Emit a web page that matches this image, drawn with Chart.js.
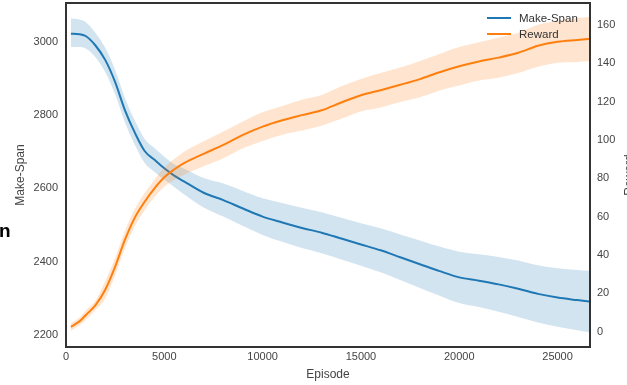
<!DOCTYPE html>
<html>
<head>
<meta charset="utf-8">
<script src="https://cdn.jsdelivr.net/npm/chart.js@4"></script>
<style>
  body { margin: 0; background: #fff; overflow: hidden; }
  #wrap { position: relative; width: 627px; height: 385px; font-family: "Liberation Sans", Arial, sans-serif; }
  .leg { position: absolute; left: 487px; width: 24px; height: 2px; }
  .legtxt { position: absolute; left: 519px; font-size: 11.5px; color: #333; line-height: 14px; }
</style>
</head>
<body>
<div id="wrap">
  <canvas id="chart" width="627" height="385"></canvas>
  <div class="leg" style="top:17px;background:#1f77b4"></div>
  <div class="legtxt" style="top:11px">Make-Span</div>
  <div class="leg" style="top:33px;background:#ff7f0e"></div>
  <div class="legtxt" style="top:27px">Reward</div>
  <div style="position:absolute;left:599px;top:168px;width:60px;height:14px;font-size:12px;color:#444;text-align:center;transform:rotate(-90deg)">Reward</div>
  <span style="position:absolute;left:-1px;top:220px;font-size:19px;font-weight:bold;color:#000">n</span>
</div>
<script>
// episodes sampled along the x axis
var episodes = [250, 700, 1000, 1500, 2000, 2500, 3000, 3500, 4000, 4500, 5000, 5500, 6000, 7000, 8000, 9000, 10000,
  11000, 12000, 13000, 14000, 15000, 16000, 17000, 18000, 19000, 20000, 21000, 22000, 23000, 24000, 25000, 26000, 26600];

// make-span (left axis): mean and shaded band
var makeSpan = [3022, 3021, 3016, 2990, 2950, 2890, 2813, 2752, 2702, 2678, 2655, 2635, 2619, 2588, 2568, 2545, 2523,
  2507, 2492, 2479, 2463, 2447, 2431, 2412, 2393, 2374, 2357, 2348, 2338, 2326, 2312, 2302, 2295, 2291];
var makeSpanHigh = [3064, 3061, 3054, 3024, 2983, 2923, 2846, 2785, 2735, 2710, 2686, 2666, 2654, 2628, 2613, 2593, 2573,
  2560, 2547, 2535, 2520, 2505, 2491, 2474, 2458, 2441, 2427, 2420, 2413, 2403, 2390, 2382, 2377, 2375];
var makeSpanLow = [2986, 2986, 2982, 2958, 2917, 2857, 2780, 2719, 2669, 2645, 2624, 2604, 2584, 2548, 2523, 2497, 2473,
  2454, 2437, 2423, 2406, 2389, 2371, 2350, 2328, 2307, 2287, 2276, 2263, 2249, 2234, 2222, 2213, 2207];

// reward (right axis): mean and shaded band
var reward = [2.5, 5.5, 8.6, 13.8, 22, 34, 48, 59.5, 67.8, 74.8, 80.6, 84.6, 87.9, 92.8, 97.5, 102.7, 107,
  110.3, 113, 115.5, 119.6, 123.4, 126, 128.8, 131.8, 135.4, 138.5, 141, 143, 145.5, 149.2, 151.3, 152.2, 152.7];
var rewardHigh = [4.5, 7.5, 11.1, 16.3, 26.5, 38.5, 52.5, 64, 72.3, 79.3, 85.6, 90.1, 93.9, 99.3, 104.5, 109.7, 114.5,
  117.8, 121, 123.5, 128.1, 131.9, 135, 137.8, 141.3, 144.9, 148.5, 151, 153.5, 156, 160.2, 162.3, 163.7, 164.2];
var rewardLow = [0.5, 3.5, 6.1, 11.3, 17.5, 29.5, 43.5, 55, 63.3, 70.3, 75.6, 79.1, 81.9, 86.3, 90.5, 95.7, 99.5,
  102.8, 105, 107.5, 111.1, 114.9, 117, 119.8, 122.3, 125.9, 128.5, 131, 132.5, 135, 138.2, 140.3, 140.7, 141.2];

// tick labels
var xTicks = [0, 5000, 10000, 15000, 20000, 25000];
var leftTicks = [2200, 2400, 2600, 2800, 3000];
var rightTicks = [0, 20, 40, 60, 80, 100, 120, 140, 160];

function pts(arr) {
  return arr.map(function (v, i) { return { x: episodes[i], y: v }; });
}
function setTicks(list) {
  return function (scale) { scale.ticks = list.map(function (v) { return { value: v }; }); };
}
// fixed box sizes, no extra label padding
function fixSize(w, h) {
  return function (s) {
    if (w) s.width = w;
    if (h) s.height = h;
    s.paddingTop = 0; s.paddingBottom = 0; s.paddingLeft = 0; s.paddingRight = 0;
  };
}
function plain(v) { return String(v); }

var tickFont = { family: 'Liberation Sans', size: 11 };
var titleFont = { family: 'Liberation Sans', size: 12 };

var frame = {
  id: 'frame',
  afterDatasetsDraw: function (chart) {
    var a = chart.chartArea, c = chart.ctx;
    c.save();
    c.strokeStyle = '#333';
    c.lineWidth = 2;
    c.strokeRect(a.left, a.top, a.right - a.left, a.bottom - a.top);
    c.restore();
  }
};

var line = { pointRadius: 0, cubicInterpolationMode: 'monotone' };

var chart = new Chart(document.getElementById('chart'), {
  type: 'line',
  data: {
    datasets: [
      Object.assign({ label: 'Reward', data: pts(reward), yAxisID: 'y1', borderColor: '#ff7f0e', borderWidth: 2, fill: false }, line),
      Object.assign({ data: pts(rewardHigh), yAxisID: 'y1', borderWidth: 0, borderColor: 'rgba(0,0,0,0)',
        backgroundColor: 'rgba(255,127,14,0.2)', fill: '+1' }, line),
      Object.assign({ data: pts(rewardLow), yAxisID: 'y1', borderWidth: 0, borderColor: 'rgba(0,0,0,0)', fill: false }, line),
      Object.assign({ label: 'Make-Span', data: pts(makeSpan), yAxisID: 'y', borderColor: '#1f77b4', borderWidth: 2, fill: false }, line),
      Object.assign({ data: pts(makeSpanHigh), yAxisID: 'y', borderWidth: 0, borderColor: 'rgba(0,0,0,0)',
        backgroundColor: 'rgba(31,119,180,0.2)', fill: '+1' }, line),
      Object.assign({ data: pts(makeSpanLow), yAxisID: 'y', borderWidth: 0, borderColor: 'rgba(0,0,0,0)', fill: false }, line)
    ]
  },
  options: {
    responsive: false,
    animation: false,
    devicePixelRatio: 1,
    layout: { padding: { top: 3, left: 0, right: 0, bottom: 0 } },
    plugins: { legend: { display: false }, tooltip: { enabled: false } },
    scales: {
      x: {
        type: 'linear', min: 0, max: 26650,
        grid: { display: false, drawTicks: false }, border: { display: false },
        afterBuildTicks: setTicks(xTicks),
        afterFit: fixSize(0, 38),
        ticks: { color: '#444', font: tickFont, padding: 3, maxRotation: 0, callback: plain },
        title: { display: true, text: 'Episode', color: '#444', font: titleFont, padding: { top: 0, bottom: 3 } }
      },
      y: {
        position: 'left', min: 2167, max: 3106,
        grid: { display: false, drawTicks: false }, border: { display: false },
        afterBuildTicks: setTicks(leftTicks),
        afterFit: fixSize(66, 0),
        ticks: { color: '#444', font: tickFont, padding: 8, callback: plain },
        title: { display: true, text: 'Make-Span', color: '#444', font: titleFont, padding: { top: 13, bottom: 0 } }
      },
      y1: {
        position: 'right', min: -8, max: 171.5,
        grid: { display: false, drawTicks: false }, border: { display: false },
        afterBuildTicks: setTicks(rightTicks),
        afterFit: fixSize(37, 0),
        ticks: { color: '#444', font: tickFont, padding: 7, callback: plain }
      }
    }
  },
  plugins: [frame]
});
</script>
</body>
</html>
